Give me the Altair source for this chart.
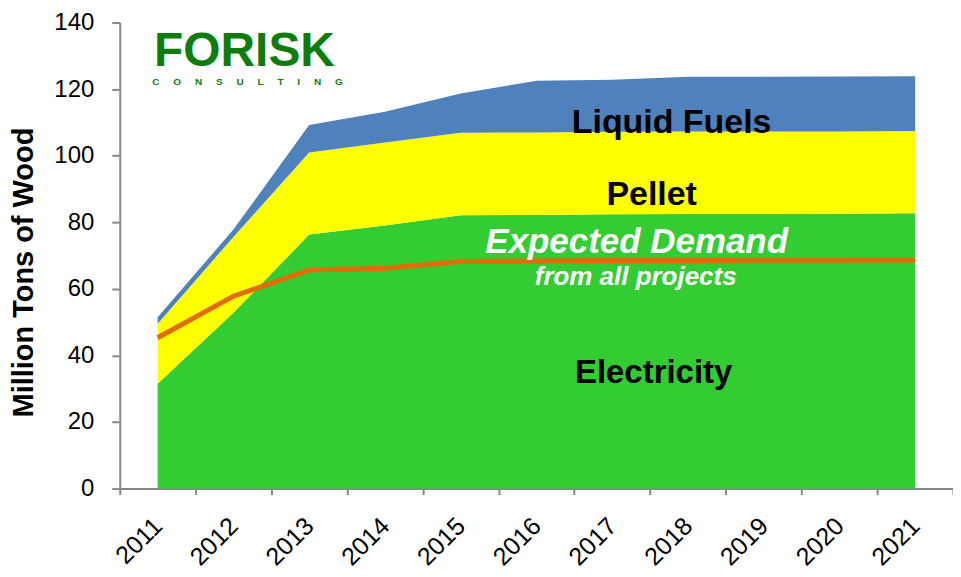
import altair as alt
import pandas as pd

years = [str(y) for y in range(2011, 2022)]
electricity = [31.5, 52.8, 76.3, 79.0, 82.1, 82.2, 82.4, 82.5, 82.5, 82.6, 82.7]
pellet = [18.0, 22.8, 24.7, 25.0, 24.8, 24.8, 24.8, 24.8, 24.8, 24.7, 24.7]
liquid = [2.0, 2.2, 8.2, 9.2, 11.8, 15.5, 15.6, 16.4, 16.4, 16.5, 16.5]
demand = [45.3, 57.8, 65.7, 66.2, 68.2, 68.4, 68.5, 68.5, 68.6, 68.6, 68.7]

series = ["Electricity", "Pellet", "Liquid Fuels"]
colors = ["#33CC33", "#FFFF00", "#4F81BD"]

rows = []
for i, y in enumerate(years):
    for k, (name, vals) in enumerate(zip(series, [electricity, pellet, liquid])):
        rows.append({"year": y, "series": name, "value": vals[i], "order": k})
df = pd.DataFrame(rows)
dline = pd.DataFrame({"year": years, "demand": demand})

FONT = "Liberation Sans"
AXIS_GREY = "#878787"

x_axis = alt.Axis(title=None, tickBand="extent")
y_axis = alt.Axis(title="Million Tons of Wood", values=list(range(0, 141, 20)), grid=False)
x_scale = alt.Scale(type="band", paddingInner=0, paddingOuter=0)
y_scale = alt.Scale(domain=[0, 140])

area = alt.Chart(df).mark_area(opacity=1).encode(
    x=alt.X("year:O", scale=x_scale, bandPosition=0.5, axis=x_axis),
    y=alt.Y("value:Q", stack="zero", scale=y_scale, axis=y_axis),
    color=alt.Color("series:N", scale=alt.Scale(domain=series, range=colors), legend=None),
    order=alt.Order("order:Q"),
)

line = alt.Chart(dline).mark_line(color="#E36C09", strokeWidth=5).encode(
    x=alt.X("year:O", scale=x_scale, bandPosition=0.5, axis=x_axis),
    y=alt.Y("demand:Q", scale=y_scale, axis=y_axis),
)

def label(text, x, y, size, color="#000", style="normal", weight="bold", font=FONT):
    return alt.Chart(pd.DataFrame({"t": [text]})).mark_text(
        font=font, fontSize=size, fontWeight=weight, fontStyle=style, color=color,
        align="center", baseline="alphabetic",
    ).encode(text="t:N", x=alt.value(x), y=alt.value(y))

NBSP = "\u00a0"
labels = [
    label("Liquid Fuels", 553, 111, 34),
    label("Pellet", 533, 183, 34),
    label("Expected Demand", 518, 231, 35, color="#FFFFFF", style="italic"),
    label("from all projects", 517, 263, 26, color="#FFFFFF", style="italic"),
    label("Electricity", 535, 361, 33),
    label("FORISK", 125, 44, 48, color="#0E7D0E", weight="bold"),
    label((NBSP * 5).join("CONSULTING"), 128, 63, 10, color="#0E7D0E", weight="bold"),
]

chart = (
    alt.layer(area, line, *labels)
    .properties(
        width=835, height=467,
        padding={"left": 112, "top": 14, "right": 0, "bottom": 88},
        autosize=alt.AutoSizeParams(type="none"),
    )
    .configure(background="#FFFFFF")
    .configure_view(stroke=None)
    .configure_axis(
        domainColor=AXIS_GREY, tickColor=AXIS_GREY, domainWidth=2, tickWidth=2,
        labelFont=FONT, labelColor="#000", titleFont=FONT, titleColor="#000",
    )
    .configure_axisX(
        labelAngle=-45, labelAlign="right", labelBaseline="middle",
        labelFontSize=25, labelPadding=27, tickSize=6,
    )
    .configure_axisY(
        labelFontSize=24, labelPadding=18, tickSize=8,
        titleFontSize=29, titleFontWeight="bold", titleAngle=-90,
        titleAlign="center", titleBaseline="middle", titleX=-96, titleY=250,
    )
)

chart.save("out.html", embed_options={"renderer": "svg", "actions": False})
